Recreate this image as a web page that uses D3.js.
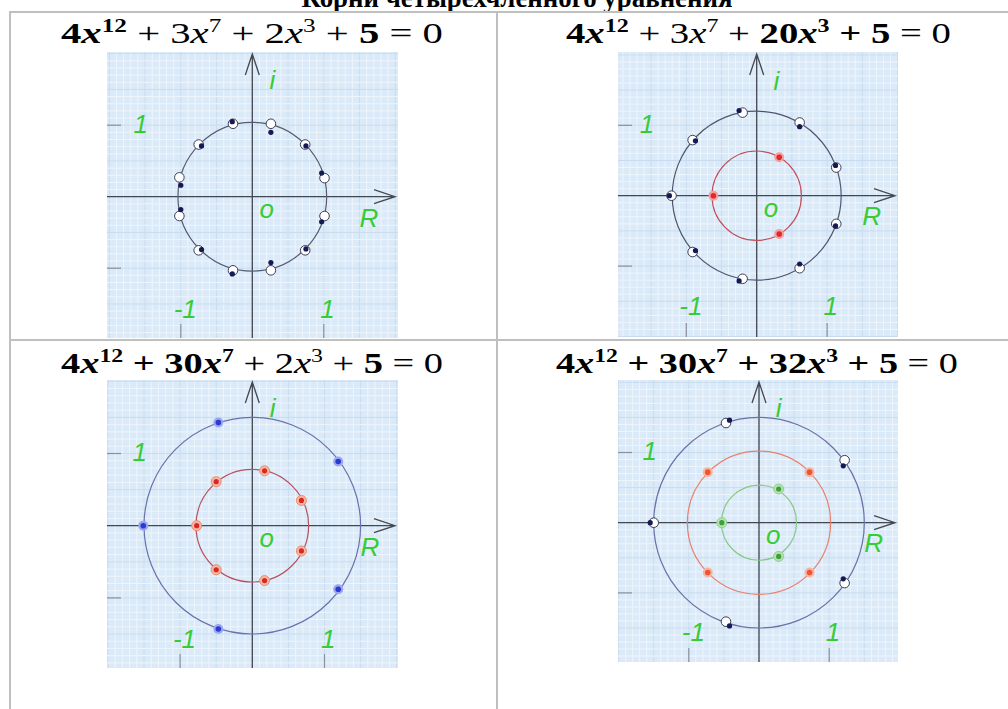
<!DOCTYPE html>
<html>
<head>
<meta charset="utf-8">
<script src="https://cdn.jsdelivr.net/npm/d3@7"></script>
<style>
  body { margin: 0; background: #fff; }
  svg { display: block; }
</style>
</head>
<body>
<script>
// page size
let w = 1008;
let h = 709;

// equation data: coefficients of x^12, x^7, x^3 and the constant
const powers = [12, 7, 3];
const coefs1 = [4, 3, 2, 5];
const coefs2 = [4, 3, 20, 5];
const coefs3 = [4, 30, 2, 5];
const coefs4 = [4, 30, 32, 5];
// which terms are typed in bold
const bold1 = [1, 0, 0, 1];
const bold2 = [1, 0, 1, 1];
const bold3 = [1, 1, 0, 1];
const bold4 = [1, 1, 1, 1];

// circles (radius, in units of the plane)
const radii1 = [1.04];
const radii2 = [1.2, 0.635];
const radii3 = [1.5, 0.78];
const radii4 = [1.5, 1.02, 0.535];

// points [re, im]
const p1Open = [[0.26,1.02],[0.74,0.73],[1.01,0.26],[1.01,-0.27],[0.74,-0.75],[0.26,-1.03],
                [-0.27,-1.03],[-0.75,-0.75],[-1.02,-0.27],[-1.02,0.27],[-0.75,0.73],[-0.27,1.02]];
const p1Roots = [[0.26,0.90],[0.75,0.71],[0.97,0.33],[0.97,-0.35],[0.75,-0.73],[0.26,-0.92],
                 [-0.28,-1.08],[-0.71,-0.74],[-1.00,-0.18],[-1.00,0.16],[-0.71,0.71],[-0.28,1.05]];

const p2Open = [[-0.20,1.18],[0.61,1.04],[1.13,0.40],[1.13,-0.40],[0.61,-1.03],[-0.20,-1.18],
                [-0.91,-0.80],[-1.21,0],[-0.91,0.79]];
const p2Roots = [[-0.25,1.21],[0.61,0.98],[1.12,0.43],[1.12,-0.43],[0.61,-0.97],[-0.25,-1.21],
                 [-0.87,-0.78],[-1.24,0],[-0.87,0.78]];
const p2Inner = [[0.32,0.545],[-0.615,0],[0.32,-0.545]];

const p3Outer = [[-0.47,1.43],[1.19,0.89],[-1.51,0],[1.19,-0.88],[-0.47,-1.43]];
const p3Inner = [[0.17,0.76],[-0.50,0.61],[0.68,0.35],[-0.77,0],[0.68,-0.35],[-0.50,-0.61],[0.17,-0.76]];

const p4Open = [[-0.47,1.42],[1.22,0.89],[-1.50,0],[1.22,-0.86],[-0.47,-1.41]];
const p4Roots = [[-0.42,1.46],[1.20,0.81],[-1.55,0],[1.20,-0.80],[-0.42,-1.47]];
const p4Mid = [[-0.73,0.72],[0.72,0.72],[-0.73,-0.71],[0.72,-0.71]];
const p4Inner = [[0.28,0.48],[-0.53,0],[0.28,-0.48]];

// axis labels: text and spot (units from origin)
const axisLabels = ["i", "1", "R", "o", "-1", "1"];
const labelSpots = [[0.24,1.5],[-1.66,0.89],[1.5,-0.42],[0.1,-0.3],[-1.1,-1.69],[0.95,-1.69]];

let serif = "'Liberation Serif', 'DejaVu Serif', serif";

let svg = d3.select("body")
  .append("svg")
    .attr("width", w)
    .attr("height", h)
    .style("background-color", "white");

// title (cut by the top of the page)
svg.append("text")
  .attr("x", 517)
  .attr("y", 7)
  .attr("text-anchor", "middle")
  .attr("textLength", 431)
  .attr("lengthAdjust", "spacingAndGlyphs")
  .style("font-family", serif)
  .style("font-weight", "bold")
  .style("font-size", "28px")
  .text("Корни четырехчленного уравнения");

// table lines
let borderColor = "#bfbfbf";
[[9,12,1008,12],[10,11,10,709],[497,12,497,709],[10,340,1008,340]].forEach(function(l){
  svg.append("line")
    .attr("x1", l[0]).attr("y1", l[1]).attr("x2", l[2]).attr("y2", l[3])
    .attr("stroke", borderColor).attr("stroke-width", 2);
});

// point styles
let styles = {
  open: {halo: null, r: 4.8, fill: "white", stroke: "#3c3f55", sw: 1},
  navy: {halo: null, r: 2.6, fill: "#151a55", stroke: "none", sw: 0},
  red: {halo: "#f3a0a0", r: 2.8, fill: "#e02a2a"},
  blue: {halo: "#9aa6ee", r: 2.8, fill: "#2a3bd0"},
  redRing: {halo: "#f6b9a0", r: 2.6, fill: "#d8282a", ring: "#ee8a70"},
  orange: {halo: "#f7b4a2", r: 2.8, fill: "#ee5535"},
  green: {halo: "#b5e2b0", r: 2.6, fill: "#3f9f3f", ring: "#8fd08a"}
};

let panels = [
  {img: [107,52,291,286], origin: [252.3,196.7], unit: 71.5,
   eq: {cx: 252, base: 43, width: 382, coefs: coefs1, bold: bold1},
   radii: radii1, rings: ["#555a70"],
   sets: [{pts: p1Open, st: "open"}, {pts: p1Roots, st: "navy"}]},
  {img: [618,52,280,285], origin: [756.7,195.7], unit: 70.4,
   eq: {cx: 758.5, base: 43, width: 385, coefs: coefs2, bold: bold2},
   radii: radii2, rings: ["#50556f", "#c0505a"],
   sets: [{pts: p2Open, st: "open"}, {pts: p2Roots, st: "navy"}, {pts: p2Inner, st: "red"}]},
  {img: [107,380,291,288], origin: [252.3,525.7], unit: 72.2,
   eq: {cx: 252, base: 372.5, width: 382, coefs: coefs3, bold: bold3},
   radii: radii3, rings: ["#6a70ac", "#b8505e"],
   sets: [{pts: p3Outer, st: "blue"}, {pts: p3Inner, st: "redRing"}]},
  {img: [618,380,280,282], origin: [759,522.7], unit: 70.2,
   eq: {cx: 757, base: 372.5, width: 402, coefs: coefs4, bold: bold4},
   radii: radii4, rings: ["#6a70a8", "#e8806c", "#86c886"],
   sets: [{pts: p4Open, st: "open"}, {pts: p4Roots, st: "navy"},
          {pts: p4Mid, st: "orange"}, {pts: p4Inner, st: "green"}]}
];

// equation text: 4x^12 + ... + 5 = 0
function drawEquation(eq){
  let t = svg.append("text")
    .attr("x", 0).attr("y", 0)
    .style("font-family", serif)
    .style("font-size", "29px");
  let sup = 18, lift = 11;
  let nextDy = 0;
  function piece(txt, weight, extra){
    let s = t.append("tspan").style("font-weight", weight).text(txt);
    if (nextDy) { s.attr("dy", nextDy); nextDy = 0; }
    if (extra) extra(s);
    return s;
  }
  eq.coefs.forEach(function(c, i){
    let b = eq.bold[i] ? "bold" : "normal";
    if (i > 0) {
      let pb = (eq.bold[i] && eq.bold[i-1]) ? "bold" : "normal";
      piece(" + ", pb);
    }
    piece(String(c), b);
    if (i < powers.length) {
      piece("x", b, s => s.style("font-style", "italic"));
      piece(String(powers[i]), b, s => s.style("font-size", sup + "px").attr("dy", -lift));
      nextDy = lift;
    }
  });
  piece(" = 0", "normal");
  let bb = t.node().getBBox();
  let s = eq.width / bb.width;
  t.attr("transform", "translate(" + (eq.cx - eq.width / 2 - bb.x * s) + "," + eq.base + ") scale(" + s + ",1)");
}

function drawPanel(p, k){
  let x0 = p.img[0], y0 = p.img[1], pw = p.img[2], ph = p.img[3];
  let xScale = d3.scaleLinear().domain([0, 1]).range([p.origin[0], p.origin[0] + p.unit]);
  let yScale = d3.scaleLinear().domain([0, 1]).range([p.origin[1], p.origin[1] - p.unit]);

  let clipId = "clip" + k;
  svg.append("clipPath").attr("id", clipId)
    .append("rect").attr("x", x0).attr("y", y0).attr("width", pw).attr("height", ph);

  let g = svg.append("g").attr("clip-path", "url(#" + clipId + ")");

  g.append("rect")
    .attr("x", x0).attr("y", y0).attr("width", pw).attr("height", ph)
    .attr("fill", "#dbeaf8");

  // graph paper
  let xs = d3.range(Math.ceil(xScale.invert(x0) * 10), Math.floor(xScale.invert(x0 + pw) * 10) + 1);
  let ys = d3.range(Math.ceil(yScale.invert(y0 + ph) * 10), Math.floor(yScale.invert(y0) * 10) + 1);
  g.selectAll(".vgrid").data(xs).enter().append("line")
    .attr("x1", d => xScale(d / 10)).attr("x2", d => xScale(d / 10))
    .attr("y1", y0).attr("y2", y0 + ph)
    .attr("stroke", d => d % 5 == 0 ? "#c9dcef" : "#eef5fc")
    .attr("stroke-width", 1);
  g.selectAll(".hgrid").data(ys).enter().append("line")
    .attr("y1", d => yScale(d / 10)).attr("y2", d => yScale(d / 10))
    .attr("x1", x0).attr("x2", x0 + pw)
    .attr("stroke", d => d % 5 == 0 ? "#c9dcef" : "#eef5fc")
    .attr("stroke-width", 1);

  // little marks at +-1 on the edges
  [-1, 1].forEach(function(v){
    g.append("line")
      .attr("x1", x0).attr("x2", x0 + 14)
      .attr("y1", yScale(v)).attr("y2", yScale(v))
      .attr("stroke", "#8a8f99").attr("stroke-width", 1.2);
    g.append("line")
      .attr("x1", xScale(v)).attr("x2", xScale(v))
      .attr("y1", y0 + ph - 14).attr("y2", y0 + ph)
      .attr("stroke", "#8a8f99").attr("stroke-width", 1.2);
  });

  // axes with open arrow heads
  let ax = "#45474f";
  let xe = x0 + pw - 3, ye = y0 + 2;
  let ox = xScale(0), oy = yScale(0);
  g.append("path")
    .attr("d", "M" + x0 + "," + oy + "H" + xe + "M" + (xe - 21) + "," + (oy - 7) + "L" + xe + "," + oy + "L" + (xe - 21) + "," + (oy + 7))
    .attr("fill", "none").attr("stroke", ax).attr("stroke-width", 1.3);
  g.append("path")
    .attr("d", "M" + ox + "," + (y0 + ph) + "V" + ye + "M" + (ox - 7) + "," + (ye + 21) + "L" + ox + "," + ye + "L" + (ox + 7) + "," + (ye + 21))
    .attr("fill", "none").attr("stroke", ax).attr("stroke-width", 1.3);

  // circles
  g.selectAll(".ring").data(p.radii).enter().append("circle")
    .attr("cx", ox).attr("cy", oy)
    .attr("r", d => xScale(d) - ox)
    .attr("fill", "none")
    .attr("stroke", (d, i) => p.rings[i])
    .attr("stroke-width", 1.2);

  // labels
  g.selectAll(".lab").data(axisLabels).enter().append("text")
    .attr("x", (d, i) => xScale(labelSpots[i][0]))
    .attr("y", (d, i) => yScale(labelSpots[i][1]))
    .style("font-family", "'Liberation Sans', sans-serif")
    .style("font-style", "italic")
    .style("font-size", "26px")
    .attr("fill", "#36cc36")
    .text(d => d);

  // points
  p.sets.forEach(function(set){
    let st = styles[set.st];
    if (st.halo) {
      g.selectAll(null).data(set.pts).enter().append("circle")
        .attr("cx", d => xScale(d[0])).attr("cy", d => yScale(d[1]))
        .attr("r", 5)
        .attr("fill", st.halo)
        .attr("stroke", st.ring || "none").attr("stroke-width", 1);
    }
    g.selectAll(null).data(set.pts).enter().append("circle")
      .attr("cx", d => xScale(d[0])).attr("cy", d => yScale(d[1]))
      .attr("r", st.r)
      .attr("fill", st.fill)
      .attr("stroke", st.stroke || "none").attr("stroke-width", st.sw || 0);
  });

  drawEquation(p.eq);
}

panels.forEach(drawPanel);
</script>
</body>
</html>
